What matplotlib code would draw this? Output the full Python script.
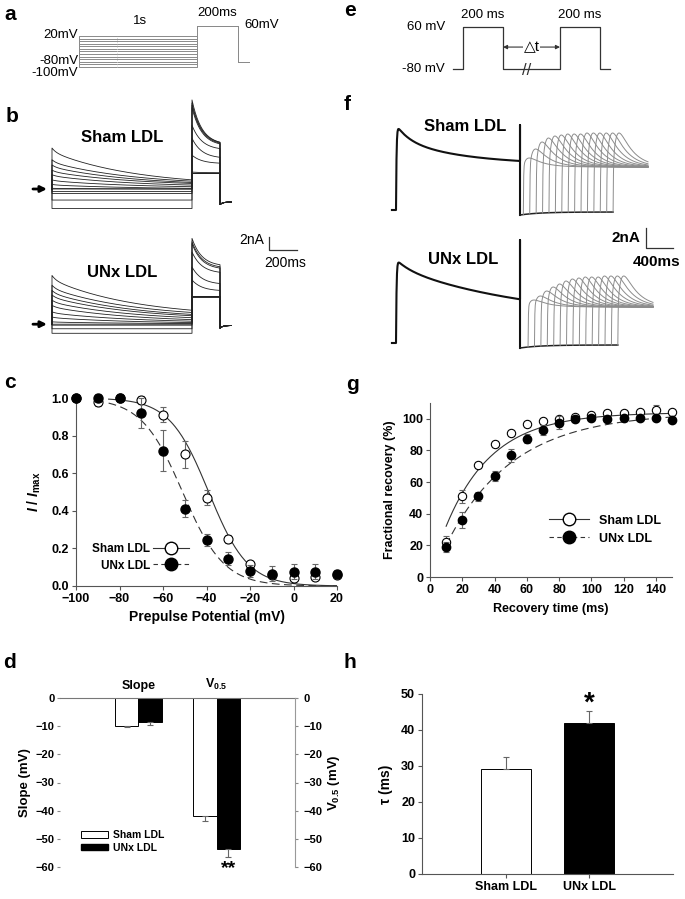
import numpy as np
import matplotlib
matplotlib.use('Agg')
import matplotlib.pyplot as plt
from matplotlib.lines import Line2D
from matplotlib.patches import Patch

plt.rcParams['font.family'] = ['Liberation Sans', 'DejaVu Sans']
plt.rcParams['font.weight'] = 'bold'
plt.rcParams['axes.labelweight'] = 'bold'
plt.rcParams['mathtext.fontset'] = 'custom'
plt.rcParams['mathtext.rm'] = 'Liberation Sans:bold'
plt.rcParams['mathtext.it'] = 'Liberation Sans:italic:bold'
plt.rcParams['mathtext.bf'] = 'Liberation Sans:bold'

# ---------------- data ----------------
# a: inactivation protocol (mV), times are the schematic's display times
a_prepulse_mv = [-100, -90, -80, -70, -60, -50, -40, -30, -20, -10, 0, 10, 20]
a_hold_mv = -80
a_test_mv = 60
a_times = [0, 1000, 1347, 1441]

# e: recovery protocol (display ms)
e_hold_mv = -80
e_test_mv = 60
e_pulse_ms = 200
e_gap_ms = 285

# b: current traces (nA) for each prepulse in a_prepulse_mv
sham_b_pre0 = [-3.0, -1.7, 0.0, -0.7, -0.4, 0.1, 0.7, 1.4, 2.2, 2.9, 3.7, 4.5, 6.3]
sham_b_pre1 = [-3.0, -1.7, 0.0, -0.7, -0.4, 0.0, 0.1, 0.35, 0.6, 0.85, 1.0, 1.2, 1.4]
sham_b_test0 = [13.7, 13.2, 12.9, 12.5, 9.8, 7.8, 5.2, 2.6, 2.4, 2.4, 2.4, 2.4, 2.4]
sham_b_test1 = [6.8, 6.8, 6.7, 6.6, 6.0, 4.7, 3.9, 2.5, 2.4, 2.4, 2.4, 2.4, 2.4]
sham_b_tail = -2.0
unx_b_pre0 = [-1.4, -0.7, 0.0, -0.15, 0.36, 1.1, 1.9, 2.9, 3.7, 4.5, 5.2, 6.0, 7.5]
unx_b_pre1 = [-1.4, -0.7, 0.0, -0.15, 0.1, 0.25, 0.46, 0.7, 1.0, 1.3, 1.5, 1.8, 2.15]
unx_b_test0 = [13.2, 12.7, 12.4, 11.1, 8.8, 6.8, 4.2, 4.2, 4.2, 4.2, 4.2, 4.2, 4.2]
unx_b_test1 = [8.9, 8.6, 8.4, 7.8, 6.1, 5.1, 4.2, 4.2, 4.2, 4.2, 4.2, 4.2, 4.2]
unx_b_tail = -0.2

# f: recovery traces (nA); prepulse = steady + fast + slow components
f_intervals = [10, 20, 30, 40, 50, 60, 70, 80, 90, 100, 110, 120, 130, 140, 150]
sham_f_prepulse = [4.5, 1.5, 2.53, 1000]   # steady, fast amp, slow amp, slow tau
unx_f_prepulse = [2.26, 0.8, 5.29, 2000]
sham_f_spike = 8.5
unx_f_spike = 10.3
sham_f_steady = 4.3
unx_f_steady = 3.6
sham_f_peak = [5.2, 6.1, 6.8, 7.2, 7.4, 7.5, 7.6, 7.6, 7.6, 7.7, 7.7, 7.7, 7.7, 7.7, 7.7]
unx_f_peak = [4.3, 4.7, 5.2, 5.6, 5.9, 6.2, 6.4, 6.5, 6.6, 6.6, 6.6, 6.7, 6.7, 6.7, 6.7]

# c: steady-state inactivation
c_voltage = [-100, -90, -80, -70, -60, -50, -40, -30, -20, -10, 0, 10, 20]
sham_c = [1.0, 0.98, 1.0, 0.99, 0.91, 0.70, 0.47, 0.25, 0.115, 0.06, 0.045, 0.05, 0.06]
sham_c_err = [0.0, 0.02, 0.02, 0.02, 0.04, 0.07, 0.04, 0.02, 0.02, 0.02, 0.02, 0.02, 0.02]
unx_c = [1.0, 1.0, 1.0, 0.92, 0.72, 0.41, 0.245, 0.145, 0.08, 0.065, 0.075, 0.075, 0.065]
unx_c_err = [0.0, 0.02, 0.02, 0.08, 0.11, 0.045, 0.03, 0.035, 0.03, 0.04, 0.04, 0.04, 0.02]
sham_c_fit = [-39.0, 9.0]    # V0.5, slope
unx_c_fit = [-51.0, 9.5]

# g: recovery from inactivation
g_time = [10, 20, 30, 40, 50, 60, 70, 80, 90, 100, 110, 120, 130, 140, 150]
sham_g = [22, 51, 71, 84, 91, 96.5, 98.5, 100, 101, 102.5, 103.5, 103.5, 104, 105.5, 104]
sham_g_err = [4, 4, 2, 2, 1, 1, 1, 1, 1, 1, 1, 1, 1, 3, 1]
unx_g = [19, 36, 51, 64, 77, 87.5, 93, 97.5, 100, 100.5, 100, 100.5, 100.5, 100.5, 99]
unx_g_err = [3, 5, 3, 3, 4, 3, 3, 4, 1.5, 1.5, 2, 2, 1.5, 1.5, 1]
sham_g_fit = [104, 29.0, -0.7]   # amplitude, tau, delay
unx_g_fit = [104, 41.5, 1.0]

# d: Boltzmann parameters
d_groups = ['Slope', r'V$_{0.5}$']
sham_d = [-9.8, -42.0]
sham_d_err = [0.6, 1.8]
unx_d = [-8.6, -53.6]
unx_d_err = [0.95, 3.0]

# h: recovery time constant
h_groups = ['Sham LDL', 'UNx LDL']
h_tau = [29.2, 41.9]
h_err = [3.2, 3.3]

W, H = 685, 899
fig = plt.figure(figsize=(W / 100, H / 100), dpi=100)


def px_axes(left, top, right, bottom):
    return fig.add_axes([left / W, 1 - bottom / H, (right - left) / W, (bottom - top) / H])


def panel_label(x, y, s):
    fig.text(x / W, 1 - y / H, s, fontsize=15, fontweight='bold', ha='center', va='center')


GREY = '#666666'

# ---------------- a ----------------
ax = px_axes(60, 5, 260, 80)
ax.set_xlim(-161, 1534)
ax.set_ylim(-150.5, 140)
ax.axis('off')
t0, t1, t2, t3 = a_times
for v in a_prepulse_mv:
    ax.plot([t0, t0, t1, t1, t2, t2, t3], [a_hold_mv, v, v, a_test_mv, a_test_mv, a_hold_mv, a_hold_mv],
            color='#8a8a8a', lw=0.7)
ax.plot([322, 322], [min(a_prepulse_mv), max(a_prepulse_mv)], color='#c8c8c8', lw=0.6, ls=':')
kw = dict(fontsize=9.5, fontweight='normal')
ax.text(517, 78, '1s', ha='center', va='center', **kw)
ax.text((t1 + t2) / 2, 109, '200ms', ha='center', va='center', **kw)
ax.text(1400, 62, '60mV', ha='left', va='center', **kw)
ax.text(-10, 22, '20mV', ha='right', va='center', **kw)
ax.text(-4, -76, '-80mV', ha='right', va='center', **kw)
ax.text(-10, -122, '-100mV', ha='right', va='center', **kw)
panel_label(10, 14, 'a')

# ---------------- e ----------------
ax = px_axes(340, 0, 685, 85)
ax.set_xlim(-615, 1110)
ax.set_ylim(-133, 150)
ax.axis('off')
p1_end = e_pulse_ms
p2_start = p1_end + e_gap_ms
p2_end = p2_start + e_pulse_ms
et = [-50, 0, 0, p1_end, p1_end, p2_start, p2_start, p2_end, p2_end, p2_end + 50]
ev = [e_hold_mv, e_hold_mv, e_test_mv, e_test_mv, e_hold_mv, e_hold_mv, e_test_mv, e_test_mv,
      e_hold_mv, e_hold_mv]
ax.plot(et, ev, color='#333333', lw=0.9)
kw = dict(fontsize=9.5, fontweight='normal')
ax.text(-90, e_test_mv, '60 mV', ha='right', va='center', **kw)
ax.text(-90, e_hold_mv, '-80 mV', ha='right', va='center', **kw)
ax.text(p1_end / 2, 100, '200 ms', ha='center', va='center', **kw)
ax.text((p2_start + p2_end) / 2, 100, '200 ms', ha='center', va='center', **kw)
ax.annotate('', xy=(p1_end, -6.7), xytext=(p2_start, -6.7),
            arrowprops=dict(arrowstyle='<|-|>', lw=0.8, color='#333333', shrinkA=0, shrinkB=0,
                            mutation_scale=6))
ax.text((p1_end + p2_start) / 2, -6.7, '\u25b3t', ha='center', va='center',
        bbox=dict(fc='white', ec='none', pad=0.5), fontsize=11, fontweight='normal')
ax.text(320, e_hold_mv - 5, '//', ha='center', va='center', fontsize=12, fontweight='normal',
        color='#333333')
panel_label(350, 10, 'e')

# ---------------- b ----------------
ax = px_axes(30, 95, 300, 345)
ax.set_xlim(-157.1, 1771.4)
ax.set_ylim(-24.0, 14.46)
ax.axis('off')
t_pre = np.linspace(0, 1000, 300)
t_test = np.linspace(1000, 1200, 120)
t_tail = np.linspace(1200, 1280, 40)
shape = 0.1 * np.exp(-t_pre / 30) + 0.9 * np.exp(-t_pre / 600)
shape = (shape - shape[-1]) / (1 - shape[-1])
groups_b = [
    (0.0, sham_b_pre0, sham_b_pre1, sham_b_test0, sham_b_test1, sham_b_tail),
    (-20.8, unx_b_pre0, unx_b_pre1, unx_b_test0, unx_b_test1, unx_b_tail),
]
for off, p0s, p1s, q0s, q1s, tail in groups_b:
    for p0, p1, q0, q1 in zip(p0s, p1s, q0s, q1s):
        pre = p1 + (p0 - p1) * shape
        test = q1 + (q0 - q1) * np.exp(-(t_test - 1000) / 70)
        tl = tail - 0.4 * np.exp(-(t_tail - 1200) / 20)
        tt = np.concatenate([[0], t_pre, t_test, t_tail])
        yy = np.concatenate([[0], pre, test, tl]) + off
        ax.plot(tt, yy, color='#222222', lw=0.6)
    ax.annotate('', xy=(-36, off), xytext=(-136, off),
                arrowprops=dict(arrowstyle='-|>', color='black', lw=2.0, mutation_scale=9,
                                shrinkA=0, shrinkB=0))
ax.text(500, 7.85, 'Sham LDL', ha='center', va='center', fontsize=12)
ax.text(500, -12.77, 'UNx LDL', ha='center', va='center', fontsize=12)
# scale bar: 2 nA, 200 ms
ax.plot([1550, 1550, 1750], [-7.4, -9.4, -9.4], color='#333333', lw=0.9)
ax.text(1515, -7.9, '2nA', ha='right', va='center', fontsize=10, fontweight='normal')
ax.text(1664, -11.4, '200ms', ha='center', va='center', fontsize=10, fontweight='normal')
panel_label(12, 117, 'b')

# ---------------- f ----------------
ax = px_axes(380, 100, 680, 350)
ax.set_xlim(-237, 4207)
ax.set_ylim(-14, 11)
ax.axis('off')
f_t_end = 1837
t_fpre = np.linspace(0, f_t_end, 500)
groups_f = [
    (0.0, sham_f_prepulse, sham_f_spike, sham_f_steady, sham_f_peak, 49, 3733),
    (-13.3, unx_f_prepulse, unx_f_spike, unx_f_steady, unx_f_peak, 119, 3807),
]
for off, (S, A1, A2, tau2), spike, steady, peaks, lag, t_stop in groups_f:
    pre = (S + A1 * np.exp(-t_fpre / 200) + A2 * np.exp(-t_fpre / tau2)) * (1 - np.exp(-t_fpre / 8))
    tt = np.concatenate([[-60], t_fpre, [f_t_end, f_t_end]])
    yy = np.concatenate([[0], pre, [spike, -0.5]]) + off
    ax.plot(tt, yy, color='#111111', lw=1.5)
    starts = [f_t_end + lag + (dt - 10) * 9.5 for dt in f_intervals]
    t_int = np.linspace(f_t_end, starts[-1], 200)
    ax.plot(t_int, -0.5 + 0.3 * (1 - np.exp(-(t_int - f_t_end) / 300)) + off, color='#222222', lw=1.1)
    norm = (1 - np.exp(-np.log(1 + 200 / 60))) * np.exp(-60 * np.log(1 + 200 / 60) / 200)
    for tk, pk in zip(starts, peaks):
        base = -0.5 + 0.3 * (1 - np.exp(-(tk - f_t_end) / 300))
        tt = np.linspace(tk, t_stop, 300)
        d = tt - tk
        hump = (pk - steady) / norm
        yy = base * np.exp(-d / 4) + steady * (1 - np.exp(-d / 4)) \
            + hump * (1 - np.exp(-d / 60)) * np.exp(-d / 200)
        ax.plot(np.concatenate([[tk], tt]), np.concatenate([[base], yy]) + off, color='#8c8c8c', lw=0.7)
ax.text(1022, 8.33, 'Sham LDL', ha='center', va='center', fontsize=12)
ax.text(993, -4.9, 'UNx LDL', ha='center', va='center', fontsize=12)
# scale bar: 2 nA, 400 ms
ax.plot([3704, 3704, 4104], [-1.8, -3.8, -3.8], color='#333333', lw=0.9)
ax.text(3620, -2.8, '2nA', ha='right', va='center', fontsize=11)
ax.text(3867, -5.2, '400ms', ha='center', va='center', fontsize=11)
panel_label(347, 105, 'f')


def style_axes(a, size=9):
    for s in ['top', 'right']:
        a.spines[s].set_visible(False)
    for s in ['left', 'bottom']:
        a.spines[s].set_color('#555555')
        a.spines[s].set_linewidth(0.8)
    a.tick_params(direction='out', length=3, width=0.8, color='#555555', labelsize=size, pad=2)


# ---------------- c ----------------
ax = px_axes(76, 398, 337, 586)
ax.errorbar(c_voltage, sham_c, yerr=sham_c_err, fmt='o', mfc='white', mec='black', mew=0.8, ms=6.5,
            ecolor=GREY, elinewidth=0.8, capsize=2.5, capthick=0.8, clip_on=False, zorder=3)
ax.errorbar(c_voltage, unx_c, yerr=unx_c_err, fmt='o', mfc='black', mec='black', ms=6.5,
            ecolor=GREY, elinewidth=0.8, capsize=2.5, capthick=0.8, clip_on=False, zorder=4)
vv = np.linspace(-85, 20, 200)
ax.plot(vv, 1 / (1 + np.exp((vv - sham_c_fit[0]) / sham_c_fit[1])), color='#333333', lw=0.8)
ax.plot(vv, 1 / (1 + np.exp((vv - unx_c_fit[0]) / unx_c_fit[1])), color='#333333', lw=0.8,
        ls=(0, (7, 4)))
ax.set_xlim(-100, 20)
ax.set_ylim(0, 1.0)
ax.set_xticks(range(-100, 21, 20))
ax.set_yticks(np.arange(0, 1.01, 0.2))
ax.yaxis.set_major_formatter('{x:.1f}')
style_axes(ax, 9)
ax.set_xlabel('Prepulse Potential (mV)', fontsize=10, labelpad=4)
ax.set_ylabel(r'$I$ / $I_{\rm max}$', fontsize=10, labelpad=6)
handles = [Line2D([], [], color='#333333', lw=0.8, marker='o', mfc='white', mec='black', ms=9),
           Line2D([], [], color='#333333', lw=0.8, ls=(0, (4, 3)), marker='o', mfc='black',
                  mec='black', ms=9)]
ax.legend(handles, ['Sham LDL', 'UNx LDL'], loc='lower left', bbox_to_anchor=(0.02, 0.02),
          frameon=False, markerfirst=False, fontsize=8.5, handlelength=3.0, labelspacing=0.4,
          handletextpad=0.3)
panel_label(10, 382, 'c')

# ---------------- g ----------------
ax = px_axes(430, 403, 672, 577)
ax.errorbar(g_time, sham_g, yerr=sham_g_err, fmt='o', mfc='white', mec='black', mew=0.8, ms=6,
            ecolor=GREY, elinewidth=0.8, capsize=2.5, capthick=0.8, clip_on=False, zorder=3)
ax.errorbar(g_time, unx_g, yerr=unx_g_err, fmt='o', mfc='black', mec='black', ms=6,
            ecolor=GREY, elinewidth=0.8, capsize=2.5, capthick=0.8, clip_on=False, zorder=4)
tt = np.linspace(10, 150, 200)
A, tau, d0 = sham_g_fit
ax.plot(tt, A * (1 - np.exp(-(tt - d0) / tau)), color='#333333', lw=0.8)
A, tau, d0 = unx_g_fit
ax.plot(tt, A * (1 - np.exp(-(tt - d0) / tau)), color='#333333', lw=0.8, ls=(0, (7, 4)))
ax.set_xlim(0, 150)
ax.set_ylim(0, 110)
ax.set_xticks(range(0, 141, 20))
ax.set_yticks(range(0, 101, 20))
style_axes(ax, 9)
ax.set_xlabel('Recovery time (ms)', fontsize=9, labelpad=5)
ax.set_ylabel('Fractional recovery (%)', fontsize=9, labelpad=4)
handles = [Line2D([], [], color='#333333', lw=0.8, marker='o', mfc='white', mec='black', ms=9),
           Line2D([], [], color='#333333', lw=0.8, ls=(0, (4, 3)), marker='o', mfc='black',
                  mec='black', ms=9)]
ax.legend(handles, ['Sham LDL', 'UNx LDL'], loc='lower right', bbox_to_anchor=(1.0, 0.12),
          frameon=False, fontsize=9, handlelength=3.2, labelspacing=0.5, handletextpad=0.8)
panel_label(353, 385, 'g')

# ---------------- d ----------------
ax = px_axes(60, 698, 295, 867)
xd = np.arange(1, len(d_groups) + 1)
w = 0.3
ax.bar(xd - w / 2, sham_d, w, color='white', edgecolor='black', lw=0.7,
       yerr=[sham_d_err, [0] * len(sham_d)], ecolor=GREY, error_kw=dict(elinewidth=0.8, capsize=2.5, capthick=0.8))
ax.bar(xd + w / 2, unx_d, w, color='black', edgecolor='black', lw=0.7,
       yerr=[unx_d_err, [0] * len(unx_d)], ecolor=GREY, error_kw=dict(elinewidth=0.8, capsize=2.5, capthick=0.8))
ax.set_xlim(0, 3)
ax.set_ylim(-60, 0)
ax.xaxis.tick_top()
ax.set_xticks(xd)
ax.set_xticklabels(d_groups, fontsize=9)
ax.tick_params(axis='x', length=0, pad=4)
ax.set_yticks(range(-60, 1, 10))
ax.tick_params(axis='y', direction='out', length=2, color='#888888', labelsize=8, pad=2)
for s in ['left', 'bottom', 'right']:
    ax.spines[s].set_visible(False)
ax.spines['top'].set_color('#777777')
ax.set_ylabel('Slope (mV)', fontsize=9.5, labelpad=3)
ax2 = ax.twinx()
ax2.set_ylim(-60, 0)
ax2.set_yticks(range(-60, 1, 10))
ax2.tick_params(axis='y', direction='out', length=2, color='#888888', labelsize=8, pad=4)
for s in ['left', 'bottom', 'top']:
    ax2.spines[s].set_visible(False)
ax2.spines['right'].set_color('#999999')
ax2.set_ylabel(r'V$_{0.5}$ (mV)', fontsize=9.5, labelpad=3)
ax.text(xd[1] + w / 2, -60.5, '**', ha='center', va='center', fontsize=14)
ax.legend(handles=[Patch(fc='white', ec='black', lw=0.7), Patch(fc='black', ec='black')],
          labels=['Sham LDL', 'UNx LDL'], loc='lower left', bbox_to_anchor=(0.05, 0.03),
          frameon=False, fontsize=7.5, handlelength=2.6, handleheight=0.6, labelspacing=0.2,
          handletextpad=0.5)
panel_label(10, 663, 'd')

# ---------------- h ----------------
ax = px_axes(422, 694, 673, 874)
xh = np.arange(1, len(h_groups) + 1)
ax.bar(xh, h_tau, 0.6, color=['white', 'black'], edgecolor='black', lw=0.7,
       yerr=[[0] * len(h_err), h_err], ecolor=GREY, error_kw=dict(elinewidth=0.8, capsize=2.5, capthick=0.8))
ax.set_xlim(0, 3)
ax.set_ylim(0, 50)
ax.set_xticks(xh)
ax.set_xticklabels(h_groups)
ax.set_yticks(range(0, 51, 10))
style_axes(ax, 9)
ax.set_ylabel('\u03c4 (ms)', fontsize=10, labelpad=6)
ax.text(xh[1], h_tau[1] + h_err[1] + 2.0, '*', ha='center', va='center', fontsize=20)
panel_label(350, 663, 'h')

fig.savefig('out.png', dpi=100)
